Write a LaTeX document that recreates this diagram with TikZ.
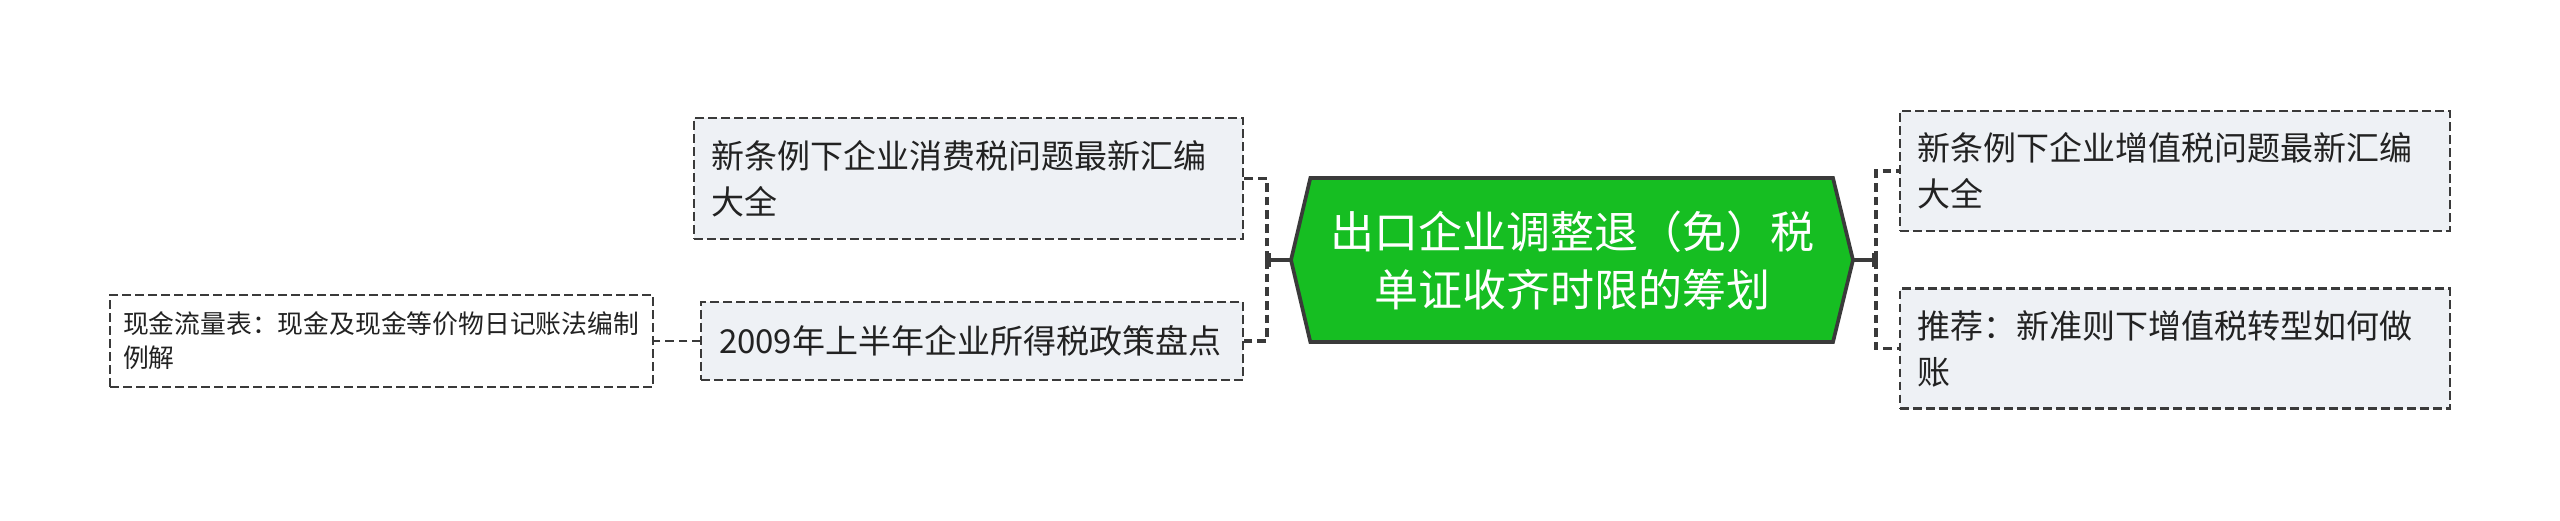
\documentclass[tikz,border=0pt]{standalone}
\usepackage{fontspec}
\setmainfont{Noto Sans CJK SC}
\usetikzlibrary{arrows.meta,backgrounds}
\definecolor{rootgreen}{RGB}{22,190,34}
\definecolor{leaffill}{RGB}{238,241,245}
\definecolor{linegray}{RGB}{58,58,58}
\definecolor{txtgray}{RGB}{34,34,34}

\begin{document}
\begin{tikzpicture}[
x=0.3pt, y=-0.3pt,
thick,
every node/.style={inner sep=0pt, outer sep=0pt},
]
% \draw [help lines] (0,0) grid[step=100] (2560,520);
\useasboundingbox (0,0) rectangle (2560,520);

\tikzset{
	r/.style={minimum width=168.6pt, minimum height=49.2pt, align=center, text=white, font=\fontsize{13.2pt}{17.4pt}\selectfont},
	hex/.style={draw=linegray, line width=1.1pt, fill=rootgreen, line join=miter},
	l/.style={draw=linegray, dash pattern=on 2.6pt off 1.3pt, line width=0.65pt, fill=leaffill, text=txtgray, align=left, inner xsep=5.1pt, text width=154.8pt, minimum height=36pt, font=\fontsize{9.9pt}{13.8pt}\selectfont},
	s/.style={linegray, line width=1.2pt, -{Bar[width=4.2pt, line width=1.1pt]}},
	b/.style={linegray, line width=1pt, dash pattern=on 2.6pt off 1.5pt},
	c/.style={linegray, line width=0.65pt, dash pattern=on 2.6pt off 1.5pt},
}

\node[r] (root) at (1572,260) {出口企业调整退（免）税\\单证收齐时限的筹划};
\begin{scope}[on background layer]
\draw[hex] (root.west) -- ([xshift=5.8pt]root.north west) -- ([xshift=-6pt]root.north east) -- (root.east) -- ([xshift=-6pt]root.south east) -- ([xshift=5.8pt]root.south west) -- cycle;
\end{scope}

\node[l, text width=154.5pt, minimum height=36.3pt] (ls1) at (968.5,178.5) {新条例下企业消费税问题最新汇编\\大全};
\node[l, text width=151.8pt, inner xsep=5.4pt, minimum height=23.4pt] (ls2) at (972,341) {2009年上半年企业所得税政策盘点};
\node[l, fill=white, text width=155.1pt, inner xsep=3.9pt, minimum height=27.6pt, font=\fontsize{7.74pt}{10.2pt}\selectfont] (far) at (381.5,341) {现金流量表：现金及现金等价物日记账法编制\\例解};

\node[l] (rs1) at (2175,171) {新条例下企业增值税问题最新汇编\\大全};
\node[l] (rs2) at (2175,348.5) {推荐：新准则下增值税转型如何做\\账};

\coordinate (lj) at (1267,260);
\coordinate (rj) at (1876,260);

\draw[s] (root.west) -- (lj);
\draw[b] (lj) |- (ls1.east);
\draw[b] (lj) |- (ls2.east);
\draw[s] (root.east) -- (rj);
\draw[b] (rj) |- (rs1.west);
\draw[b] (rj) |- (rs2.west);
\draw[c] (ls2.west) -- (far.east);

\end{tikzpicture}
\end{document}
